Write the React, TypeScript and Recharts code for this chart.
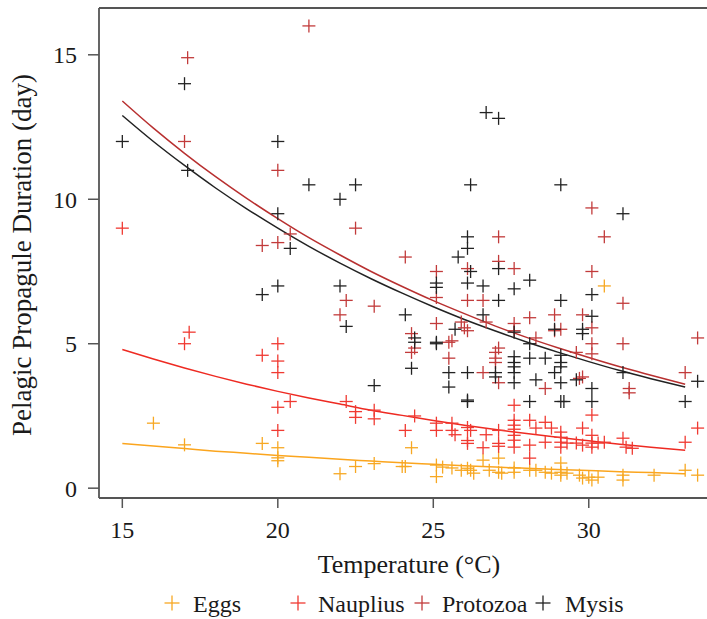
import React from 'react';
import { ComposedChart, Scatter, Line, XAxis, YAxis, ReferenceLine } from 'recharts';

// Observed points: [temperature (°C), duration (day)]
const eggsPoints: number[][] = [
  [16.0, 2.25], [17.0, 1.5], [19.5, 1.55], [20, 1.4], [20, 1.05], [20, 0.95], [22.0, 0.5], [22.5, 0.75],
  [23.1, 0.85], [24.0, 0.75], [24.1, 0.75], [24.3, 1.4], [25.1, 0.8], [25.1, 0.4], [25.3, 0.73], [25.6, 0.7],
  [25.9, 0.62], [26.1, 0.69], [26.2, 0.62], [26.3, 0.52], [26.6, 0.97], [26.8, 0.62], [27.1, 1.04], [27.1, 0.55],
  [27.2, 0.52], [27.6, 0.55], [27.6, 0.7], [28.1, 0.62], [28.3, 0.62], [28.6, 0.55], [28.8, 0.52], [29.1, 0.87],
  [29.1, 0.55], [29.1, 0.45], [29.3, 0.52], [29.7, 0.45], [29.8, 0.35], [30.0, 0.38], [30.1, 0.28], [30.3, 0.38],
  [30.5, 7.0], [31.1, 0.45], [31.1, 0.28], [32.1, 0.45], [33.1, 0.62], [33.5, 0.45],
];

const naupliusPoints: number[][] = [
  [15, 9.0], [17.15, 5.4], [17.0, 5.0], [19.5, 4.6], [20, 5.0], [20, 4.4], [20, 4.0], [20.4, 3.0], [20, 2.8],
  [20, 2.0], [22.2, 3.0], [22.5, 2.65], [22.5, 2.45], [23.1, 2.7], [23.1, 2.4], [24.4, 2.5], [24.1, 2.0],
  [25.1, 2.25], [25.1, 2.0], [25.6, 2.25], [25.6, 2.0], [25.7, 1.85], [26.1, 2.1], [26.2, 2.0], [26.1, 1.65],
  [26.1, 1.55], [26.7, 1.85], [26.6, 1.4], [27.1, 2.0], [27.1, 1.55], [27.1, 1.45], [27.6, 2.87], [27.6, 2.35],
  [27.6, 2.18], [27.6, 2.04], [27.6, 1.83], [27.6, 1.66], [27.6, 1.42], [28.1, 2.35], [28.1, 1.49], [28.1, 1.04],
  [28.3, 2.08], [28.6, 2.28], [28.6, 1.59], [28.8, 2.08], [29.1, 1.94], [29.1, 1.76], [29.1, 1.59], [29.1, 1.42],
  [29.3, 1.56], [29.6, 1.56], [29.8, 2.08], [29.8, 1.49], [30.1, 2.53], [30.1, 1.83], [30.1, 1.56], [30.1, 1.42],
  [30.3, 1.56], [30.5, 1.59], [31.1, 1.73], [31.2, 1.42], [31.4, 1.38], [33.1, 1.59], [33.5, 2.08],
];

const protozoaPoints: number[][] = [
  [21.0, 16.0], [17.1, 14.9], [17.0, 12.0], [20, 11.0], [22.5, 9.0], [19.5, 8.4], [20, 8.5], [20.4, 8.8],
  [22.2, 6.5], [22.0, 6.0], [23.1, 6.3], [24.1, 8.0], [27.1, 8.7], [27.1, 7.85], [27.6, 7.6], [25.1, 7.5],
  [26.1, 7.6], [25.1, 6.6], [26.1, 6.5], [26.6, 6.5], [30.1, 9.7], [30.5, 8.7], [30.1, 7.5], [31.1, 6.4],
  [25.1, 5.7], [25.6, 5.1], [25.9, 5.75], [26.0, 5.55], [26.1, 5.45], [26.7, 5.75], [24.3, 5.35], [24.4, 4.85],
  [24.3, 4.7], [27.1, 4.85], [28.1, 5.9], [28.9, 6.0], [29.8, 6.0], [29.1, 5.5], [30.1, 5.55], [27.6, 5.7],
  [27.6, 5.45], [28.3, 5.2], [30.1, 5.0], [31.1, 5.0], [33.5, 5.2], [25.5, 5.05], [25.5, 4.5], [26.6, 4.0],
  [27.0, 4.7], [27.0, 4.5], [27.0, 4.35], [27.1, 3.65], [28.6, 3.45], [28.9, 5.45], [29.6, 4.7], [29.7, 3.8],
  [30.1, 4.65], [31.3, 3.45], [31.3, 3.3], [33.1, 4.0], [29.8, 3.85],
];

const mysisPoints: number[][] = [
  [17.0, 14.0], [15, 12.0], [20, 12.0], [17.1, 11.0], [21.0, 10.5], [22.5, 10.5], [22.0, 10.0], [20, 9.5],
  [20.4, 8.3], [19.5, 6.7], [20, 7.0], [22.0, 7.0], [22.2, 5.6], [26.7, 13.0], [27.1, 12.8], [26.2, 10.5],
  [29.1, 10.5], [31.1, 9.5], [26.1, 8.7], [26.1, 8.3], [25.8, 8.0], [27.1, 7.6], [28.1, 7.2], [27.6, 6.9],
  [25.1, 7.1], [25.1, 6.95], [26.2, 7.5], [26.1, 7.1], [26.6, 7.0], [27.1, 6.5], [29.1, 6.5], [30.1, 6.7],
  [24.1, 6.0], [25.1, 5.0], [25.7, 5.5], [26.6, 6.0], [24.4, 5.2], [24.4, 5.05], [24.3, 4.15], [30.1, 5.95],
  [28.9, 5.5], [29.8, 5.5], [29.8, 5.35], [25.1, 5.05], [25.5, 4.0], [25.5, 3.5], [26.1, 4.0], [26.1, 3.05],
  [26.1, 3.0], [27.0, 4.0], [27.0, 3.85], [27.6, 4.55], [27.6, 4.35], [27.6, 4.2], [27.6, 4.0], [27.6, 3.65],
  [28.1, 5.0], [28.1, 4.5], [28.6, 4.5], [28.3, 3.75], [28.1, 3.0], [29.1, 3.0], [29.2, 3.0], [29.1, 4.6],
  [29.1, 4.35], [29.1, 4.2], [28.9, 4.0], [29.1, 3.65], [29.6, 3.75], [30.1, 3.45], [30.1, 3.0], [31.1, 4.0],
  [33.5, 3.7], [33.1, 3.0], [23.1, 3.55], [27.6, 5.4],
];

// Fitted curves
const curveTemps = [15, 16, 17, 18, 19, 20, 21, 22, 23, 24, 25, 26, 27, 28, 29, 30, 31, 32, 33.1];
const eggsCurve = [1.55, 1.46, 1.37, 1.28, 1.21, 1.13, 1.07, 1.0, 0.94, 0.88, 0.83, 0.78, 0.73, 0.69, 0.65, 0.61, 0.57, 0.54, 0.5];
const naupliusCurve = [4.8, 4.47, 4.16, 3.87, 3.6, 3.35, 3.12, 2.91, 2.7, 2.52, 2.34, 2.18, 2.03, 1.89, 1.76, 1.64, 1.52, 1.42, 1.31];
const protozoaCurve = [13.4, 12.46, 11.59, 10.78, 10.03, 9.33, 8.67, 8.07, 7.5, 6.98, 6.49, 6.04, 5.61, 5.22, 4.86, 4.52, 4.2, 3.91, 3.6];
const mysisCurve = [12.9, 12.0, 11.17, 10.39, 9.67, 9.0, 8.37, 7.79, 7.25, 6.75, 6.28, 5.84, 5.44, 5.06, 4.71, 4.38, 4.07, 3.79, 3.5];

const xTicks = [15, 20, 25, 30];
const yTicks = [0, 5, 10, 15];
const seriesNames = ['Eggs', 'Nauplius', 'Protozoa', 'Mysis'];

const COLORS = {
  Eggs: '#F7A823',
  Nauplius: '#F03A32',
  Protozoa: '#C23B3B',
  Mysis: '#222222',
};

const X_DOMAIN: [number, number] = [14.25, 34.22];
const Y_DOMAIN: [number, number] = [-0.34, 16.62];
const FONT = "'Liberation Serif', 'Times New Roman', Times, serif";

const toPts = (arr: number[][]) => arr.map(([t, d]) => ({ t, d }));
const toCurve = (vals: number[]) => curveTemps.map((t, i) => ({ t, d: vals[i] }));

const makePlus = (color: string) => (props: any) => {
  const { cx, cy } = props;
  if (cx == null || cy == null) return <g />;
  const h = 6.5;
  return (
    <g>
      <line x1={cx - h} y1={cy} x2={cx + h} y2={cy} stroke={color} strokeWidth={1.3} />
      <line x1={cx} y1={cy - h} x2={cx} y2={cy + h} stroke={color} strokeWidth={1.3} />
    </g>
  );
};

const legendPos: Record<string, { plus: number; text: number }> = {
  Eggs: { plus: 172, text: 193 },
  Nauplius: { plus: 298, text: 318 },
  Protozoa: { plus: 422, text: 442 },
  Mysis: { plus: 543, text: 565 },
};

export default function App() {
  return (
    <div style={{ position: 'absolute', left: 0, top: 0, width: 707, height: 619, overflow: 'hidden', background: '#fff', fontFamily: FONT }}>
      <ComposedChart
        width={740}
        height={619}
        margin={{ top: 8, right: 20, bottom: 41, left: 0 }}
        style={{ fontFamily: FONT }}
      >
        <XAxis
          type="number"
          dataKey="t"
          domain={X_DOMAIN}
          ticks={xTicks}
          allowDataOverflow
          height={80}
          tickSize={10}
          tickMargin={13}
          stroke="#555"
          axisLine={{ stroke: '#555', strokeWidth: 1.8 }}
          tickLine={{ stroke: '#555', strokeWidth: 1.5 }}
          tick={{ fill: '#1a1a1a', fontSize: 24, style: { fontFamily: FONT } }}
          label={{
            content: () => (
              <text x={409} y={573} textAnchor="middle" fill="#1a1a1a" style={{ fontFamily: FONT, fontSize: 26 }}>
                Temperature (°C)
              </text>
            ),
          }}
        />
        <YAxis
          type="number"
          dataKey="d"
          domain={Y_DOMAIN}
          ticks={yTicks}
          allowDataOverflow
          width={99}
          tickSize={11}
          tickMargin={11}
          stroke="#555"
          axisLine={{ stroke: '#555', strokeWidth: 1.8 }}
          tickLine={{ stroke: '#555', strokeWidth: 1.5 }}
          tick={{ fill: '#1a1a1a', fontSize: 24, style: { fontFamily: FONT } }}
          label={{
            content: () => (
              <text
                x={31}
                y={255}
                textAnchor="middle"
                fill="#1a1a1a"
                style={{ fontFamily: FONT, fontSize: 27 }}
                transform="rotate(-90 31 255)"
              >
                Pelagic Propagule Duration (day)
              </text>
            ),
          }}
        />
        <ReferenceLine y={Y_DOMAIN[1]} stroke="#555" strokeWidth={1.8} ifOverflow="visible" />

        <Scatter name="Eggs" data={toPts(eggsPoints)} shape={makePlus(COLORS.Eggs)} isAnimationActive={false} />
        <Scatter name="Nauplius" data={toPts(naupliusPoints)} shape={makePlus(COLORS.Nauplius)} isAnimationActive={false} />
        <Scatter name="Protozoa" data={toPts(protozoaPoints)} shape={makePlus(COLORS.Protozoa)} isAnimationActive={false} />
        <Scatter name="Mysis" data={toPts(mysisPoints)} shape={makePlus(COLORS.Mysis)} isAnimationActive={false} />

        <Line data={toCurve(eggsCurve)} dataKey="d" type="monotone" stroke="#FBA51E" strokeWidth={1.5} dot={false} activeDot={false} isAnimationActive={false} />
        <Line data={toCurve(naupliusCurve)} dataKey="d" type="monotone" stroke="#EE2A22" strokeWidth={1.5} dot={false} activeDot={false} isAnimationActive={false} />
        <Line data={toCurve(mysisCurve)} dataKey="d" type="monotone" stroke="#222222" strokeWidth={1.5} dot={false} activeDot={false} isAnimationActive={false} />
        <Line data={toCurve(protozoaCurve)} dataKey="d" type="monotone" stroke="#B83030" strokeWidth={1.5} dot={false} activeDot={false} isAnimationActive={false} />
      </ComposedChart>
      <svg width={707} height={40} style={{ position: 'absolute', left: 0, top: 585 }}>
        {seriesNames.map((name) => {
          const p = legendPos[name];
          const c = (COLORS as any)[name];
          return (
            <g key={name}>
              <line x1={p.plus - 7.5} y1={18} x2={p.plus + 7.5} y2={18} stroke={c} strokeWidth={1.3} />
              <line x1={p.plus} y1={10.5} x2={p.plus} y2={25.5} stroke={c} strokeWidth={1.3} />
              <text x={p.text} y={27} fill="#1a1a1a" style={{ fontFamily: FONT, fontSize: 24 }}>
                {name}
              </text>
            </g>
          );
        })}
      </svg>
    </div>
  );
}
